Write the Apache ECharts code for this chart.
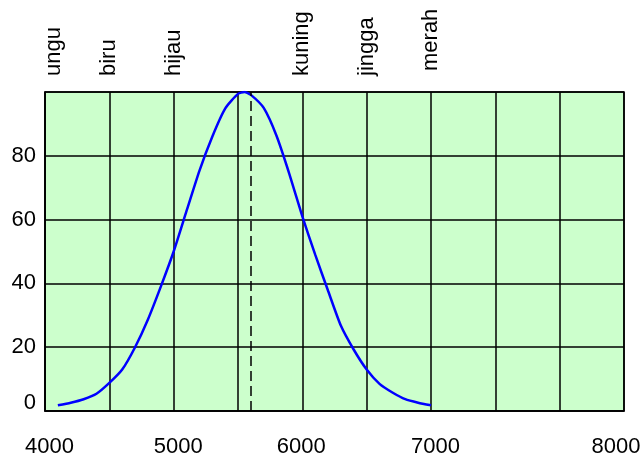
<!DOCTYPE html>
<html>
<head>
<meta charset="utf-8">
<script src="https://cdn.jsdelivr.net/npm/echarts@6/dist/echarts.min.js"></script>
<style>
html,body{margin:0;padding:0;background:#fff;}
#c{width:644px;height:458px;}
</style>
</head>
<body>
<div id="c"></div>
<script>
// Wavelength (Å) and relative sensitivity (%)
const wavelengths = [4100,4200,4300,4400,4500,4600,4700,4800,4900,5000,5100,5200,5300,5400,5500,5550,5600,5700,5800,5900,6000,6100,6200,6300,6400,6500,6600,6700,6800,6900,7000];
const sensitivity = [1.8,2.6,3.7,5.4,8.8,13,20,28.7,39,50,62.7,75.3,86,94.8,99.4,100,99.1,95,86.2,74.2,61,49,37.7,26.7,19.2,13,8.5,5.8,3.7,2.6,1.8];
const peakMarker = 5600;

// Bottom tick labels as drawn in the reference
const xTickValues = [4000,5000,6000,7000,8500];
const xTickLabels = ['4000','5000','6000','7000','8000'];
const xTickStyles = ['a','a','c','a','d'];

// Colour names along the top
const colourValues = [4000,4500,5000,6000,6500,7000];
const colourNames = ['ungu','biru','hijau','kuning','jingga','merah'];
const colourStyles = ['u','n','n','n','n','m'];

// Y tick labels
const yTickValues = [0,20,40,60,80];

const FONT = 'Liberation Sans, Arial, sans-serif';
const chart = echarts.init(document.getElementById('c'));
chart.setOption({
  animation: false,
  grid: {
    left: 45, right: 20, top: 92, bottom: 45,
    show: true, backgroundColor: '#ccffcc', borderColor: '#000', borderWidth: 1.5
  },
  xAxis: [{
    type: 'value', min: 4000, max: 8500, interval: 500,
    axisLine: { show: true, lineStyle: { color: '#000', width: 1.5 } },
    axisTick: { show: false },
    splitLine: { show: true, lineStyle: { color: '#000', width: 1.5 } },
    axisLabel: {
      show: true, margin: 25, color: '#000', fontFamily: FONT, fontSize: 22,
      showMinLabel: true, showMaxLabel: true,
      formatter: function (v) {
        const i = xTickValues.indexOf(v);
        if (i < 0) return '';
        return '{' + xTickStyles[i] + '|' + xTickLabels[i] + '}';
      },
      rich: {
        a: { fontFamily: FONT, fontSize: 22, color: '#000', padding: [0, 0, 0, 9] },
        c: { fontFamily: FONT, fontSize: 22, color: '#000', padding: [0, 2, 0, 0] },
        d: { fontFamily: FONT, fontSize: 22, color: '#000', padding: [0, 16, 0, 0] }
      }
    }
  }, {
    type: 'value', position: 'top', min: 4000, max: 8500, interval: 500,
    axisLine: { show: false }, axisTick: { show: false }, splitLine: { show: false },
    axisLabel: {
      show: true, rotate: -90, margin: 16, color: '#000', fontFamily: FONT, fontSize: 22,
      showMinLabel: true, showMaxLabel: true,
      formatter: function (v) {
        const i = colourValues.indexOf(v);
        if (i < 0) return '';
        return '{' + colourStyles[i] + '|' + colourNames[i] + '}';
      },
      rich: {
        u: { fontFamily: FONT, fontSize: 22, color: '#000', padding: [18, 0, 0, 0] },
        n: { fontFamily: FONT, fontSize: 22, color: '#000' },
        m: { fontFamily: FONT, fontSize: 22, color: '#000', padding: [0, 0, 0, 5] }
      }
    }
  }],
  yAxis: {
    type: 'value', min: 0, max: 100, interval: 20,
    axisLine: { show: true, lineStyle: { color: '#000', width: 1.5 } },
    axisTick: { show: false },
    splitLine: { show: true, lineStyle: { color: '#000', width: 1.5 } },
    axisLabel: {
      margin: 9, color: '#000', fontFamily: FONT, fontSize: 22,
      formatter: function (v) {
        if (yTickValues.indexOf(v) < 0) return '';
        return v === 0 ? '{z|' + v + '}' : '{n|' + v + '}';
      },
      rich: {
        z: { fontFamily: FONT, fontSize: 22, color: '#000', padding: [0, 0, 16, 0] },
        n: { fontFamily: FONT, fontSize: 22, color: '#000' }
      }
    }
  },
  series: [{
    type: 'line',
    xAxisIndex: 0,
    data: wavelengths.map((w, i) => [w, sensitivity[i]]),
    showSymbol: false,
    smooth: 0.2,
    lineStyle: { color: '#0000ff', width: 2.5 },
    markLine: {
      silent: true, symbol: 'none', label: { show: false },
      lineStyle: { color: '#000', type: [10, 5], width: 1.5 },
      data: [{ xAxis: peakMarker }]
    }
  }]
});
</script>
</body>
</html>
